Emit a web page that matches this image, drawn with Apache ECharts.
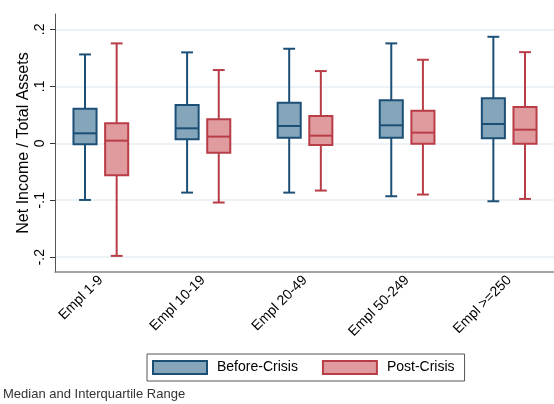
<!DOCTYPE html>
<html>
<head>
<meta charset="utf-8">
<script src="https://cdn.jsdelivr.net/npm/echarts@6/dist/echarts.min.js"></script>
<style>html,body{margin:0;padding:0;background:#fff;}#c{width:554px;height:404px;}</style>
</head>
<body>
<div id="c"></div>
<script>
var categories = ['Empl 1-9', 'Empl 10-19', 'Empl 20-49', 'Empl 50-249', 'Empl >=250'];
// [lower whisker, Q1, median, Q3, upper whisker]
var beforeCrisis = [
  [-0.0995, -0.0018, 0.0175, 0.0607, 0.156],
  [-0.0866, 0.0070, 0.0263, 0.0672, 0.1596],
  [-0.0866, 0.0099, 0.0304, 0.0712, 0.166],
  [-0.0930, 0.0099, 0.0316, 0.0754, 0.1754],
  [-0.1018, 0.0088, 0.0339, 0.0790, 0.187]
];
var postCrisis = [
  [-0.1977, -0.0560, 0.0046, 0.0351, 0.1754],
  [-0.1040, -0.0164, 0.0117, 0.0420, 0.1286],
  [-0.0830, -0.0030, 0.0134, 0.0479, 0.1268],
  [-0.0900, -0.0006, 0.0187, 0.0573, 0.1467],
  [-0.0977, -0.0006, 0.0239, 0.0637, 0.160]
];
var yTickValues = [-0.2, -0.1, 0, 0.1, 0.2];
var yTickLabels = ['-.2', '-.1', '0', '.1', '.2'];
var seriesNames = ['Before-Crisis', 'Post-Crisis'];

var FONT = '"Liberation Sans", Arial, sans-serif';
var styles = [
  {fill: '#84a5ba', stroke: '#1c4f76'},
  {fill: '#e09b9f', stroke: '#b83d47'}
];
var offsets = [-0.155, 0.155];

function toRows(arr) {
  return arr.map(function (d, i) { return [i + 1].concat(d); });
}

function makeRender(k) {
  return function (params, api) {
    var x = api.value(0) + offsets[k];
    var lo = api.value(1), q1 = api.value(2), med = api.value(3), q3 = api.value(4), hi = api.value(5);
    var half = 0.113, cap = 0.058;
    var pL = api.coord([x - half, q3]);
    var pR = api.coord([x + half, q1]);
    var pMedL = api.coord([x - half, med]);
    var pMedR = api.coord([x + half, med]);
    var pHi = api.coord([x, hi]);
    var pLo = api.coord([x, lo]);
    var pQ3 = api.coord([x, q3]);
    var pQ1 = api.coord([x, q1]);
    var cL = api.coord([x - cap, hi])[0];
    var cR = api.coord([x + cap, hi])[0];
    var st = styles[k];
    var ls = {stroke: st.stroke, lineWidth: 2};
    return {
      type: 'group',
      children: [
        {type: 'line', shape: {x1: pHi[0], y1: pHi[1], x2: pQ3[0], y2: pQ3[1]}, style: ls},
        {type: 'line', shape: {x1: pLo[0], y1: pLo[1], x2: pQ1[0], y2: pQ1[1]}, style: ls},
        {type: 'line', shape: {x1: cL, y1: pHi[1], x2: cR, y2: pHi[1]}, style: ls},
        {type: 'line', shape: {x1: cL, y1: pLo[1], x2: cR, y2: pLo[1]}, style: ls},
        {type: 'rect', shape: {x: pL[0], y: pL[1], width: pR[0] - pL[0], height: pR[1] - pL[1]},
          style: {fill: st.fill, stroke: st.stroke, lineWidth: 2}},
        {type: 'line', shape: {x1: pMedL[0], y1: pMedL[1], x2: pMedR[0], y2: pMedR[1]}, style: ls}
      ]
    };
  };
}

var chart = echarts.init(document.getElementById('c'), null, {renderer: 'canvas'});
chart.setOption({
  backgroundColor: '#fff',
  animation: false,
  textStyle: {fontFamily: FONT},
  title: {
    text: 'Median and Interquartile Range',
    left: 3, top: 388, padding: 0,
    textStyle: {fontSize: 13, fontWeight: 'normal', color: '#333', fontFamily: FONT}
  },
  legend: {
    left: 147, top: 354,
    orient: 'horizontal',
    itemWidth: 54, itemHeight: 13, itemGap: 24,
    padding: [6, 10, 6, 5],
    borderColor: '#555', borderWidth: 1, borderRadius: 0,
    backgroundColor: '#fff',
    textStyle: {fontSize: 14, color: '#000', fontFamily: FONT, padding: [0, 0, 0, 5]},
    data: [
      {name: seriesNames[0], icon: 'rect', itemStyle: {color: styles[0].fill, borderColor: styles[0].stroke, borderWidth: 2}},
      {name: seriesNames[1], icon: 'rect', itemStyle: {color: styles[1].fill, borderColor: styles[1].stroke, borderWidth: 2}}
    ]
  },
  grid: {left: 55, right: 0, top: 14, bottom: 132, containLabel: false},
  xAxis: {
    type: 'value', min: 0.551, max: 5.439,
    axisLine: {show: true, onZero: false, lineStyle: {color: '#888', width: 1.5}},
    axisTick: {show: false},
    splitLine: {show: false},
    axisLabel: {
      customValues: [1, 2, 3, 4, 5],
      formatter: function (v) { return categories[Math.round(v) - 1] || ''; },
      rotate: 45, fontSize: 14, color: '#000', margin: 6, fontFamily: FONT
    }
  },
  yAxis: {
    type: 'value', min: -0.226, max: 0.227,
    name: 'Net Income / Total Assets',
    nameLocation: 'middle', nameRotate: 90, nameGap: 23, nameMoveOverlap: false,
    nameTextStyle: {fontSize: 16, color: '#000', fontFamily: FONT},
    axisLine: {show: true, onZero: false, lineStyle: {color: '#555', width: 1}},
    axisTick: {show: true, customValues: yTickValues, length: 5, lineStyle: {color: '#333', width: 1}},
    splitLine: {show: true, lineStyle: {color: '#e6eef2', width: 1.5}},
    axisLabel: {
      customValues: yTickValues,
      formatter: function (v) {
        for (var i = 0; i < yTickValues.length; i++) {
          if (Math.abs(yTickValues[i] - v) < 1e-6) return yTickLabels[i];
        }
        return '';
      },
      rotate: 90, fontSize: 14, color: '#000', margin: 8, fontFamily: FONT
    }
  },
  series: [
    {name: seriesNames[0], type: 'custom', renderItem: makeRender(0), data: toRows(beforeCrisis),
      itemStyle: {color: styles[0].fill, borderColor: styles[0].stroke}, encode: {x: 0, y: [1, 2, 3, 4, 5]}, clip: false},
    {name: seriesNames[1], type: 'custom', renderItem: makeRender(1), data: toRows(postCrisis),
      itemStyle: {color: styles[1].fill, borderColor: styles[1].stroke}, encode: {x: 0, y: [1, 2, 3, 4, 5]}, clip: false}
  ]
});
</script>
</body>
</html>
